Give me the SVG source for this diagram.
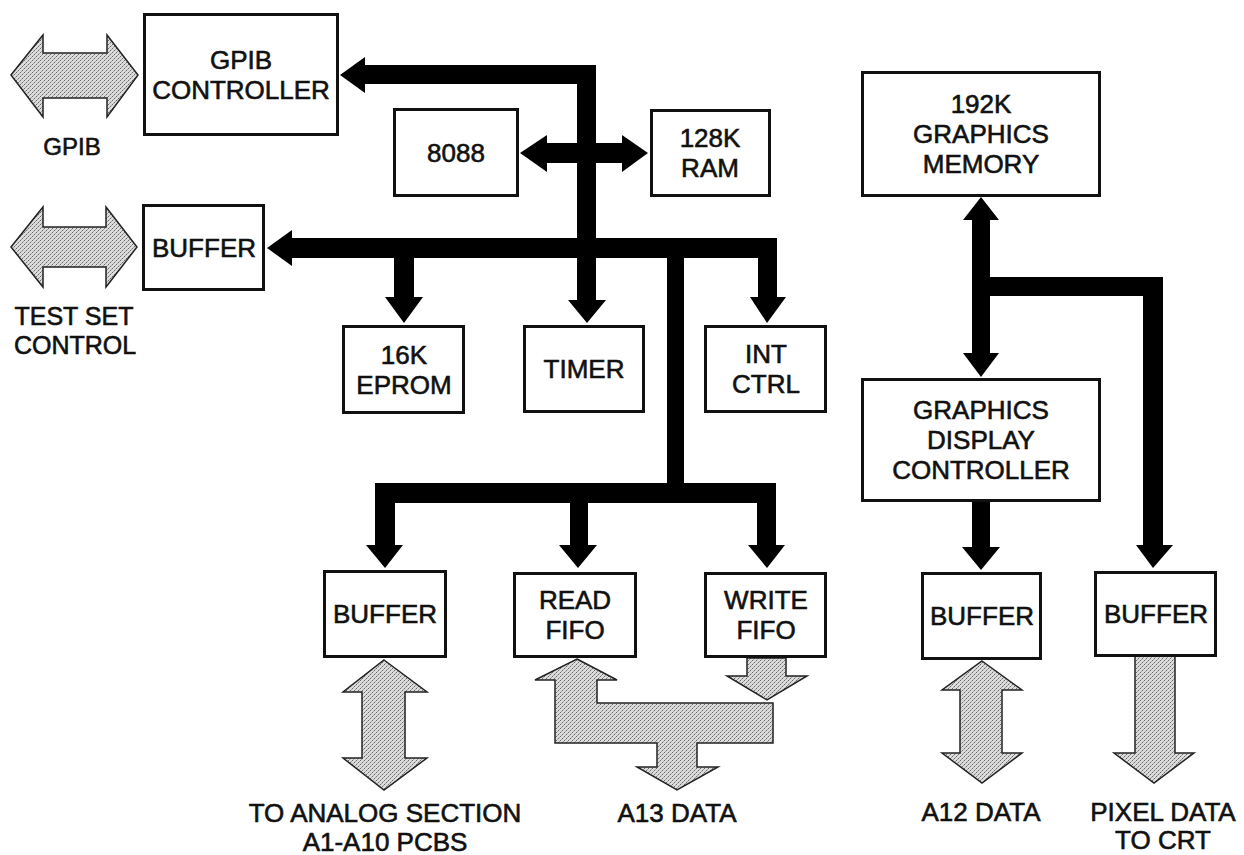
<svg xmlns="http://www.w3.org/2000/svg" width="1244" height="855" viewBox="0 0 1244 855">
<defs>
<pattern id="ht" width="4" height="4" patternUnits="userSpaceOnUse">
<rect width="4" height="4" fill="#dcdcdc"/>
<rect x="0" y="0" width="1" height="1" fill="#6a6a6a"/>
<rect x="2" y="2" width="1" height="1" fill="#6a6a6a"/>
<rect x="1" y="3" width="1" height="1" fill="#a0a0a0"/>
<rect x="3" y="1" width="1" height="1" fill="#a0a0a0"/>
</pattern>
</defs>
<style>
.box{fill:#fff;stroke:#111;stroke-width:3}
.bus{fill:#000;stroke:none}
.gray{fill:url(#ht);stroke:#222;stroke-width:1.5;stroke-linejoin:miter}
text{font-family:"Liberation Sans",Arial,Helvetica,sans-serif;font-size:26px;fill:#111;stroke:#111;stroke-width:0.6;text-anchor:middle}
</style>
<rect width="1244" height="855" fill="#fff"/>

<g id="connectors">
<!-- top bus to GPIB controller and timer -->
<polygon class="bus" points="340,75 365,57 365,65 596,65 596,300 606,300 587,323 568,300 577,300 577,84 365,84 365,93"/>
<!-- 8088 <-> 128K RAM -->
<polygon class="bus" points="520,153 547,135 547,143 622,143 622,135 648,153 622,172 622,163 547,163 547,172"/>
<!-- bus 2 -->
<polygon class="bus" points="267,248 292,230 292,238 777,238 777,297 786,297 767,323 750,297 758,297 758,258 684,258 684,483 667,483 667,258 414,258 414,297 423,297 404,323 385,297 394,297 394,258 292,258 292,266"/>
<!-- bus 3 -->
<polygon class="bus" points="375,483 776,483 776,545 785,545 767,568 748,545 757,545 757,503 588,503 588,545 597,545 578,568 559,545 570,545 570,503 395,503 395,545 403,545 385,568 366,545 375,545"/>
<!-- graphics bus -->
<polygon class="bus" points="981,197 999,220 990,220 990,277 1163,277 1163,545 1173,545 1153,568 1136,545 1143,545 1143,296 990,296 990,353 999,353 981,377 963,353 972,353 972,220 963,220"/>
<!-- GDC to buffer -->
<polygon class="bus" points="972,502 990,502 990,547 1000,547 981,570 962,547 972,547"/>

<!-- gray data arrows -->
<polygon class="gray" points="11,75 43,35 43,53 107,53 107,35 138,75 107,117 107,98 43,98 43,117"/>
<polygon class="gray" points="11,247 43,207 43,227 106,227 106,207 137,247 106,287 106,267 43,267 43,287"/>
<polygon class="gray" points="384,660 427,692 405,692 405,758 427,758 384,790 343,758 362,758 362,692 343,692"/>
<polygon class="gray" points="577,659 617,680 597,680 597,703 773,703 773,743 697,743 697,767 718,767 677,790 637,767 657,767 657,743 555,743 555,680 535,680"/>
<polygon class="gray" points="747,658 786,658 786,676 807,676 767,700 727,676 747,676"/>
<polygon class="gray" points="982,661 1022,690 1002,690 1002,753 1022,753 982,783 942,753 960,753 960,690 942,690"/>
<polygon class="gray" points="1135,655 1175,655 1175,753 1194,753 1154,783 1114,753 1135,753"/>
</g>

<g id="gpib-controller"><rect class="box" x="144.5" y="14.5" width="193" height="120"/><text x="241" y="69">GPIB</text><text x="241" y="99">CONTROLLER</text></g>
<g id="cpu-8088"><rect class="box" x="394.5" y="109.5" width="123" height="86"/><text x="456" y="162">8088</text></g>
<g id="ram-128k"><rect class="box" x="651.5" y="110.5" width="118" height="85"/><text x="710" y="147">128K</text><text x="710" y="177">RAM</text></g>
<g id="buffer-testset"><rect class="box" x="143.5" y="205.5" width="120" height="84"/><text x="204" y="257">BUFFER</text></g>
<g id="eprom-16k"><rect class="box" x="343.5" y="326.5" width="120" height="86"/><text x="404" y="364">16K</text><text x="404" y="394">EPROM</text></g>
<g id="timer"><rect class="box" x="524.5" y="326.5" width="119" height="85"/><text x="584" y="378">TIMER</text></g>
<g id="int-ctrl"><rect class="box" x="705.5" y="326.5" width="120" height="85"/><text x="766" y="363">INT</text><text x="766" y="393">CTRL</text></g>
<g id="graphics-memory"><rect class="box" x="862.5" y="72.5" width="237" height="123"/><text x="981" y="113">192K</text><text x="981" y="143">GRAPHICS</text><text x="981" y="173">MEMORY</text></g>
<g id="graphics-display-controller"><rect class="box" x="862.5" y="379.5" width="237" height="121"/><text x="981" y="419">GRAPHICS</text><text x="981" y="449">DISPLAY</text><text x="981" y="479">CONTROLLER</text></g>
<g id="buffer-analog"><rect class="box" x="324.5" y="571.5" width="121" height="85"/><text x="385" y="623">BUFFER</text></g>
<g id="read-fifo"><rect class="box" x="514.5" y="573.5" width="121" height="83"/><text x="575" y="609">READ</text><text x="575" y="639">FIFO</text></g>
<g id="write-fifo"><rect class="box" x="705.5" y="573.5" width="120" height="83"/><text x="766" y="609">WRITE</text><text x="766" y="639">FIFO</text></g>
<g id="buffer-a12"><rect class="box" x="922.5" y="573.5" width="118" height="85"/><text x="982" y="625">BUFFER</text></g>
<g id="buffer-pixel"><rect class="box" x="1095.5" y="572.5" width="120" height="83"/><text x="1156" y="623">BUFFER</text></g>

<g id="labels">
<text x="72" y="155" style="font-size:24px">GPIB</text>
<text x="74" y="325" style="font-size:25px">TEST SET</text>
<text x="75" y="354" style="font-size:25px">CONTROL</text>
<text x="385" y="822">TO ANALOG SECTION</text>
<text x="385" y="851">A1-A10 PCBS</text>
<text x="677" y="822">A13 DATA</text>
<text x="981" y="821">A12 DATA</text>
<text x="1163" y="821">PIXEL DATA</text>
<text x="1163" y="849">TO CRT</text>
</g>
</svg>
